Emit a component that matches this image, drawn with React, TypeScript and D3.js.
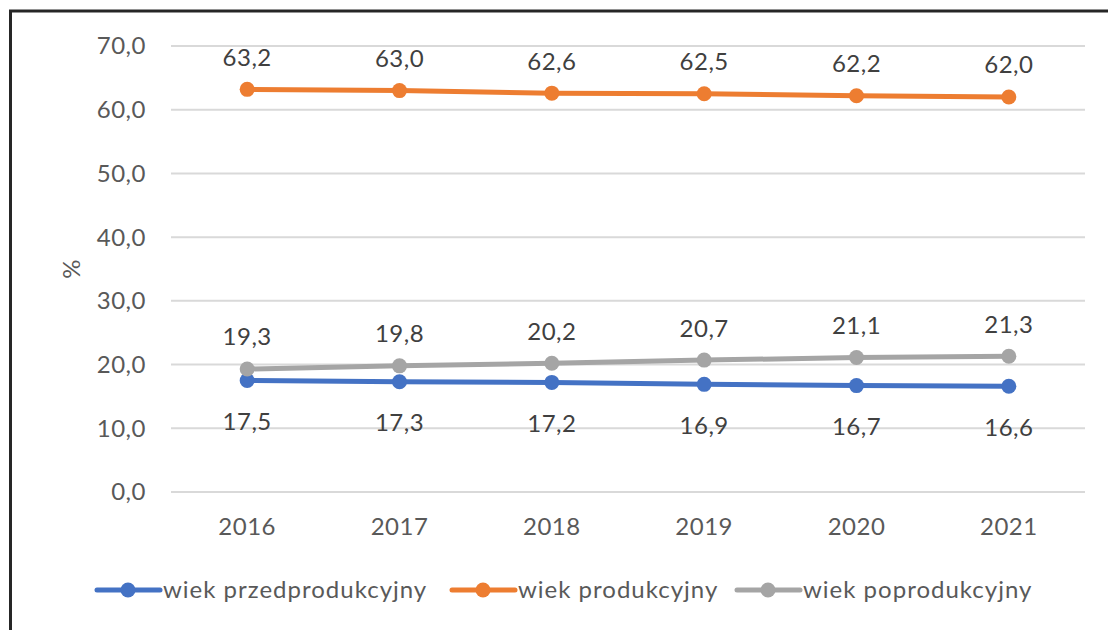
import React from "react";
import * as d3 from "d3";

const years = ["2016", "2017", "2018", "2019", "2020", "2021"];
const przed = [17.5, 17.3, 17.2, 16.9, 16.7, 16.6];
const prod = [63.2, 63.0, 62.6, 62.5, 62.2, 62.0];
const poprod = [19.3, 19.8, 20.2, 20.7, 21.1, 21.3];
const yTicks = [0, 10, 20, 30, 40, 50, 60, 70];

const series = [
  { name: "wiek przedprodukcyjny", values: przed, color: "#4472C4", labelPos: "below" },
  { name: "wiek produkcyjny", values: prod, color: "#ED7D31", labelPos: "above" },
  { name: "wiek poprodukcyjny", values: poprod, color: "#A5A5A5", labelPos: "above" },
];

const W = 1108;
const H = 630;
const margin = { top: 46, right: 23, bottom: 138, left: 171 };
const font = "Lato, 'Open Sans', sans-serif";
const textColor = "#595959";
const fs = 24;

const fmt = (v: number) => v.toFixed(1).replace(".", ",");

export default function App() {
  const x = d3
    .scalePoint<string>()
    .domain(years)
    .range([margin.left, W - margin.right])
    .padding(0.5);
  const y = d3
    .scaleLinear()
    .domain([0, 70])
    .range([H - margin.bottom, margin.top]);

  const line = d3
    .line<number>()
    .x((_, i) => x(years[i]) as number)
    .y((d) => y(d));

  // legend item positions (line start x)
  const legendX = [97, 452, 737];
  const legendY = 590;

  return (
    <svg
      width={W}
      height={H}
      style={{ position: "absolute", left: 0, top: 0, background: "#fff" }}
      fontFamily={font}
    >
      {/* frame */}
      <rect x={10.5} y={11} width={W + 20} height={H + 20} fill="none" stroke="#262626" strokeWidth={3} />

      {/* grid */}
      {yTicks.map((t) => (
        <g key={t}>
          <line
            x1={margin.left}
            x2={W - margin.right}
            y1={y(t)}
            y2={y(t)}
            stroke="#D9D9D9"
            strokeWidth={2}
          />
          <text
            x={146}
            y={y(t)}
            dy="0.35em"
            textAnchor="end"
            fontSize={fs}
            letterSpacing={0.5}
            fill={textColor}
          >
            {fmt(t)}
          </text>
        </g>
      ))}

      {/* x labels */}
      {years.map((yr) => (
        <text
          key={yr}
          x={x(yr)}
          y={527}
          dy="0.35em"
          textAnchor="middle"
          fontSize={fs}
          letterSpacing={0.5}
          fill={textColor}
        >
          {yr}
        </text>
      ))}

      {/* y title */}
      <text
        transform={`translate(72,${y(35)}) rotate(-90)`}
        textAnchor="middle"
        dy="0.35em"
        fontSize={fs}
        fill={textColor}
      >
        %
      </text>

      {/* series */}
      {series.map((s) => (
        <g key={s.name}>
          <path
            d={line(s.values) || ""}
            fill="none"
            stroke={s.color}
            strokeWidth={5}
            strokeLinecap="round"
          />
          {s.values.map((v, i) => (
            <circle key={i} cx={x(years[i])} cy={y(v)} r={7.5} fill={s.color} />
          ))}
          {s.values.map((v, i) => (
            <text
              key={"l" + i}
              x={x(years[i])}
              y={y(v) + (s.labelPos === "above" ? -32 : 41)}
              dy="0.35em"
              textAnchor="middle"
              fontSize={fs}
              letterSpacing={0.5}
              fill="#404040"
            >
              {fmt(v)}
            </text>
          ))}
        </g>
      ))}

      {/* legend */}
      {series.map((s, i) => (
        <g key={"lg" + i}>
          <line
            x1={legendX[i]}
            x2={legendX[i] + 63}
            y1={legendY}
            y2={legendY}
            stroke={s.color}
            strokeWidth={5}
            strokeLinecap="round"
          />
          <circle cx={legendX[i] + 31} cy={legendY} r={7.5} fill={s.color} />
          <text
            x={legendX[i] + 66}
            y={legendY}
            dy="0.35em"
            fontSize={fs}
            letterSpacing={1}
            fill={textColor}
          >
            {s.name}
          </text>
        </g>
      ))}
    </svg>
  );
}
